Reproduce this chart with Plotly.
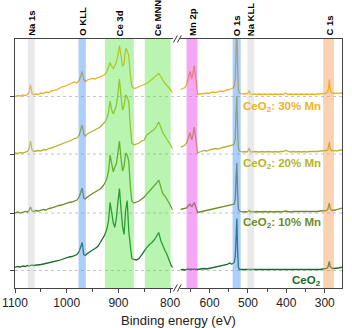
import plotly.graph_objects as go

# binding energy (eV), left and right part of the broken axis
e_left = [1100, 1095, 1090, 1085, 1080, 1076, 1073, 1070, 1067, 1064,
          1060, 1055, 1050, 1045, 1040, 1035, 1030, 1025, 1020, 1015,
          1010, 1005, 1000, 995, 990, 985, 980, 976, 973, 970,
          967, 964, 960, 955, 950, 945, 940, 935, 930, 926,
          922, 919, 916, 913, 910, 907, 904, 901, 898, 895,
          892, 889, 886, 883, 880, 877, 874, 870, 865, 860,
          855, 850, 845, 840, 835, 830, 826, 822, 818, 814,
          810, 806, 802, 798, 795]
e_right = [676, 670, 664, 660, 657, 654, 651, 648, 646, 643,
           640, 637, 634, 631, 626, 620, 614, 608, 602, 596,
           590, 584, 578, 572, 566, 560, 554, 548, 543, 539,
           536, 533, 531, 529, 527, 525, 522, 518, 513, 508,
           503, 500, 497, 494, 490, 484, 477, 470, 463, 456,
           449, 442, 435, 428, 421, 414, 408, 402, 396, 389,
           382, 375, 368, 361, 354, 347, 340, 333, 326, 319,
           312, 306, 300, 295, 292, 290, 288, 286, 283, 280,
           276, 272, 268, 264, 260, 255]

# intensities (a.u., above each baseline)
mn30_left = [0, 1, 0.5, 1.5, 1, 2, 4, 12, 3, 2,
             2.5, 2, 3.5, 3, 4.5, 4, 5.5, 6, 6.5, 8,
             9.5, 10, 11, 12, 13, 14.5, 13.5, 16, 20, 25,
             17, 15, 16.5, 17, 18, 17.5, 19, 19.5, 20.5, 22,
             25, 29, 34, 30, 28, 31, 34, 41, 51, 41,
             30, 33, 48, 46, 41, 22, 10, 8, 8.5, 10,
             11, 12, 13, 15, 17, 19, 21, 23, 20, 16,
             13, 11, 8, 5, 4]
mn20_left = [1, 0.5, 1.5, 1, 2, 2.5, 5, 13, 4, 2.5,
             3, 3.5, 3, 4.5, 4, 5.5, 6, 7, 7.5, 8.5,
             9.5, 11, 11.5, 13, 14, 15.5, 16, 19, 23, 29,
             20, 18, 20, 21.5, 23, 24, 25.5, 27, 30, 32,
             36, 42, 53, 44, 40, 45, 48, 60, 75, 58,
             44, 48, 59, 57, 52, 28, 11, 9, 10, 11,
             13, 14, 19, 21, 23, 25, 28, 32, 27, 21,
             18, 15, 12, 8, 5]
mn10_left = [0, 1, 0, 1, 1.5, 1, 2.5, 6, 2, 1.5,
             2.5, 2, 3, 3.5, 3, 4.5, 5, 6, 6.5, 7.5,
             8, 9, 9.5, 10.5, 11, 12, 13, 16, 20, 25,
             15, 14, 16, 18, 19.5, 21, 22.5, 24, 27, 30,
             35, 42, 58, 47, 41, 46, 49, 60, 72, 55,
             42, 47, 60, 58, 52, 27, 12, 10, 11, 12,
             14, 16, 19, 22, 24, 27, 30, 33, 26, 19,
             17, 14, 10, 6, 3]
ceo2_left = [3, 4, 3.5, 4.5, 4, 5, 4.5, 5, 5.5, 5,
             5.5, 6, 6, 6.5, 7, 7.5, 8, 9, 9.5, 10,
             11, 12, 12.5, 13.5, 14, 15, 16, 19, 23, 28,
             16, 15, 17, 19, 20.5, 22, 24, 28, 33, 36,
             42, 50, 68, 55, 48, 43, 52, 68, 82, 62,
             44, 36, 60, 70, 40, 25, 12, 11, 10.5, 12,
             16, 19, 23, 26, 28, 31, 34, 38, 30, 24,
             20, 16, 10, 5, 3]

mn30_right = [7, 8, 9, 12, 16, 21, 25, 20, 17.5, 24,
              31, 22, 8, 2, 2.5, 2.5, 3, 3.5, 3, 4,
              4.5, 4, 5, 5.5, 5, 6, 6.5, 7, 8, 8.5,
              10, 18, 50, 70, 30, 7, 3.5, 3, 2.5, 3,
              2.5, 3.5, 6, 2.5, 2, 2.5, 2, 2.5, 2, 2.5,
              2, 2.5, 2, 2.5, 2, 2.5, 2, 3.5, 2, 2.5,
              2, 2.5, 2, 2.5, 2, 2.5, 2, 2.5, 2, 2.5,
              2.5, 3, 3, 3.5, 4.5, 9, 17, 8, 4, 3.5,
              3, 3, 3.5, 3, 3.5, 3.5]
mn20_right = [7, 7.5, 9, 11, 14, 18, 21.5, 16, 14, 20,
              27, 18, 6, 1, 2, 3, 3.5, 3, 4, 4.5,
              5, 5.5, 5, 6, 6.5, 7, 7.5, 8, 9, 9,
              10, 16, 42, 58, 25, 6, 3, 2.5, 2, 2.5,
              2, 3, 6, 2.5, 2, 2.5, 2, 2, 2.5, 2,
              2.5, 2, 2, 2.5, 2, 2.5, 2.5, 3.5, 2.5, 2,
              2.5, 2, 2.5, 2, 2.5, 2, 2.5, 2.5, 2, 2.5,
              3, 3, 3, 3.5, 4, 7, 12, 6, 3.5, 3.5,
              3, 3.5, 3, 3.5, 3.5, 4]
mn10_right = [3.5, 4, 4.5, 5, 6.5, 8, 9, 7, 6.5, 8.5,
              10.5, 7, 3, 0.5, 1, 1.5, 2, 2.5, 2.5, 3,
              3.5, 4, 4.5, 5, 5.5, 6, 6.5, 7, 8, 8.5,
              9, 14, 36, 50, 20, 4, 2, 1.5, 1, 1.5,
              1, 1.5, 2.5, 1, 1.5, 1, 1.5, 1, 1.5, 1.5,
              1, 1.5, 1, 1.5, 1.5, 1, 1.5, 2, 1.5, 1,
              1.5, 1.5, 1, 1.5, 1, 1.5, 1.5, 1, 1.5, 1.5,
              2, 2, 2, 2.5, 3.5, 6, 10, 5, 3, 2.5,
              2.5, 3, 3.5, 4, 4.5, 5]
ceo2_right = [0.5, 1, 0.5, 1, 1.5, 1, 1.5, 1, 1.5, 1,
              1.5, 1, 1.5, 1, 1.5, 1.5, 2, 1.5, 2, 2.5,
              3, 3, 3.5, 4, 4.5, 5, 6, 7.5, 6.5, 7,
              8, 14, 38, 52, 20, 3, 1, 1, 0.5, 1,
              0.5, 1, 1, 0.5, 1, 0.5, 1, 0.5, 1, 0.5,
              1, 0.5, 1, 0.5, 1, 0.5, 1, 1, 0.5, 1,
              0.5, 1, 0.5, 1, 1, 0.5, 1, 1, 0.5, 1,
              1, 1.5, 1.5, 2, 3, 5, 9, 4, 2.5, 2,
              2, 2, 2.5, 2.5, 3, 3]

samples = ["CeO<sub>2</sub>", "CeO<sub>2</sub>: 10% Mn",
           "CeO<sub>2</sub>: 20% Mn", "CeO<sub>2</sub>: 30% Mn"]
left_data = [ceo2_left, mn10_left, mn20_left, mn30_left]
right_data = [ceo2_right, mn10_right, mn20_right, mn30_right]
offsets = [17.5, 75, 134, 191.5]
colors = ["#176A2C", "#6E8C26", "#B8B424", "#EDB420"]

# reference regions
band_names = ["Na 1s", "O KLL", "Ce 3d", "Ce MNN", "Mn 2p", "O 1s", "Na KLL", "C 1s"]
band_lo = [1075, 977, 926, 849, 660, 540, 502, 304]
band_hi = [1062, 963, 870, 799, 632, 519, 484, 276]
band_axis = ["x", "x", "x", "x", "x2", "x2", "x2", "x2"]
band_colors = ["rgba(200,200,200,0.4)", "rgba(73,144,244,0.45)",
               "rgba(80,230,60,0.4)", "rgba(80,230,60,0.4)",
               "rgba(233,60,233,0.45)", "rgba(73,144,244,0.45)",
               "rgba(200,200,200,0.4)", "rgba(244,155,77,0.45)"]

fig = go.Figure()
for name, yl, yr, off, c in zip(samples, left_data, right_data, offsets, colors):
    fig.add_trace(go.Scatter(x=e_left, y=[v + off for v in yl], mode="lines",
                             line=dict(color=c, width=1.3), xaxis="x", yaxis="y",
                             showlegend=False, hoverinfo="skip"))
    fig.add_trace(go.Scatter(x=e_right, y=[v + off for v in yr], mode="lines",
                             line=dict(color=c, width=1.3), xaxis="x2", yaxis="y2",
                             showlegend=False, hoverinfo="skip"))
    fig.add_shape(type="line", xref="paper", x0=0, x1=1, yref="y", y0=off, y1=off,
                  line=dict(color="#c4c4c4", width=1, dash="dot"), layer="below")
    fig.add_annotation(x=305, xref="x2", y=off - 10, yref="y", text="<b>%s</b>" % name,
                       showarrow=False, xanchor="right", yanchor="middle",
                       font=dict(size=11.5, color=c))

for name, lo, hi, ax, c in zip(band_names, band_lo, band_hi, band_axis, band_colors):
    fig.add_shape(type="rect", xref=ax, x0=lo, x1=hi, yref="paper", y0=0, y1=1,
                  fillcolor=c, line_width=0, layer="above")
    fig.add_annotation(x=(lo + hi) / 2, xref=ax, y=1, yref="paper", yshift=1,
                       text="<b>%s</b>" % name, textangle=-90, showarrow=False,
                       xanchor="center", yanchor="bottom",
                       font=dict(size=9.5, color="black"))

# axis break marks
for yb in [1.0, 0.0]:
    for xs in [0.4905, 0.5025]:
        fig.add_shape(type="line", xref="paper", yref="paper",
                      x0=xs - 0.006, x1=xs + 0.006, y0=yb - 0.014, y1=yb + 0.014,
                      line=dict(color="#333", width=1))

axis_style = dict(showline=True, linecolor="#444", linewidth=1, mirror=True,
                  ticks="outside", ticklen=4, tickcolor="#444", dtick=100, tick0=0,
                  minor=dict(dtick=50, ticks="outside", ticklen=3, tickcolor="#444"),
                  showgrid=False, zeroline=False, ticklabeloverflow="allow",
                  tickfont=dict(size=12, color="#222"))

fig.update_layout(
    width=352, height=328,
    margin=dict(l=12, r=2, t=39, b=40),
    plot_bgcolor="white", paper_bgcolor="white",
    font=dict(family="Arial, Liberation Sans, sans-serif"),
    xaxis=dict(domain=[0, 0.4822], range=[1100, 795], anchor="y", **axis_style),
    xaxis2=dict(domain=[0.5059, 1], range=[676, 255], anchor="y2", **axis_style),
    yaxis=dict(range=[0, 249], anchor="x", showline=True, linecolor="#444",
               ticks="outside", ticklen=4, tickcolor="#444", tickvals=offsets,
               showticklabels=False, showgrid=False, zeroline=False),
    yaxis2=dict(range=[0, 249], anchor="x2", matches="y", side="right",
                showline=True, linecolor="#444", showticklabels=False,
                showgrid=False, zeroline=False),
)
fig.add_annotation(x=0.5, xref="paper", y=-0.13, yref="paper",
                   text="Binding energy (eV)", showarrow=False,
                   xanchor="center", yanchor="middle",
                   font=dict(size=13, color="#222"))

fig.write_html("out.html", config={"displayModeBar": False},
               post_script="document.body.style.margin = '0';")
